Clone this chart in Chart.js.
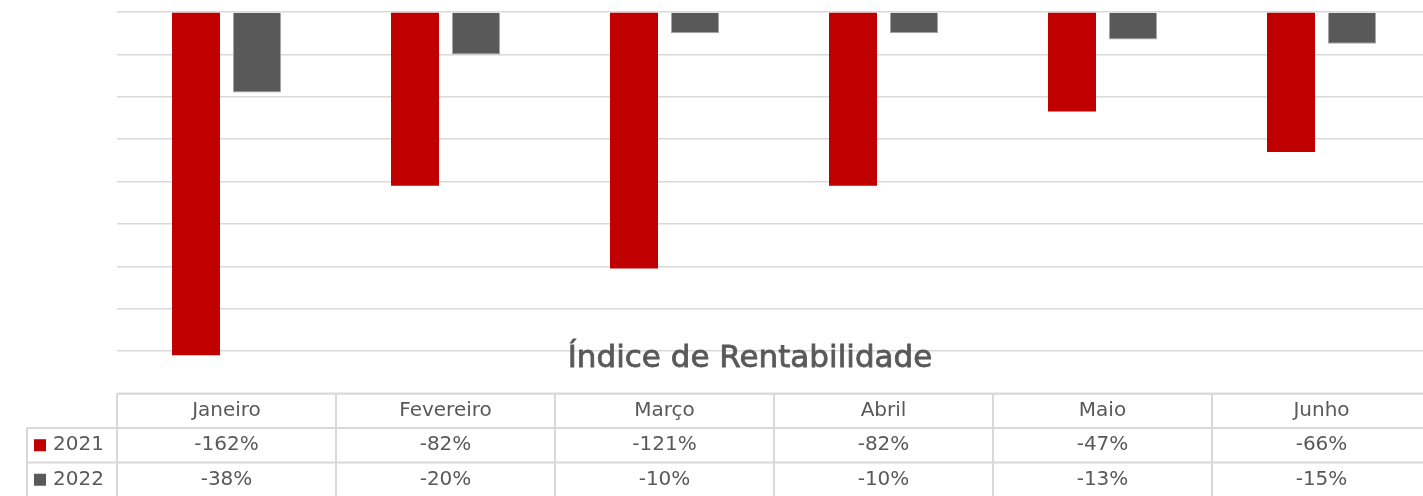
<!DOCTYPE html>
<html>
<head>
<meta charset="utf-8">
<script src="https://cdn.jsdelivr.net/npm/chart.js@4/dist/chart.umd.min.js"></script>
<style>
  html, body { margin: 0; padding: 0; background: #fff; overflow: hidden; }
  #wrap { width: 1440px; height: 496px; }
</style>
</head>
<body>
<div id="wrap"><canvas id="chart" width="1440" height="496"></canvas></div>
<script>
const months = ['Janeiro', 'Fevereiro', 'Março', 'Abril', 'Maio', 'Junho'];
const seriesNames = ['2021', '2022'];
const values2021 = [-162, -82, -121, -82, -47, -66];
const values2022 = [-38, -20, -10, -10, -13, -15];
const chartTitle = 'Índice de Rentabilidade';

const red = '#C00000';
const grey = '#595959';
const lineGrey = '#d9d9d9';
const textGrey = '#595959';
const font = '"DejaVu Sans", sans-serif';

// title sits over the lower grid, like the original
const titlePlugin = {
    id: 'titleOverlay',
    afterDraw(chart) {
        const ctx = chart.ctx;
        ctx.save();
        ctx.font = '31px ' + font;
        ctx.fillStyle = textGrey;
        ctx.strokeStyle = textGrey;
        ctx.lineWidth = 0.8;
        ctx.textAlign = 'center';
        ctx.textBaseline = 'alphabetic';
        ctx.fillText(chartTitle, 750, 367);
        ctx.strokeText(chartTitle, 750, 367);
        ctx.restore();
    }
};

// data table under the plot
const tablePlugin = {
    id: 'dataTable',
    afterDraw(chart) {
        const ctx = chart.ctx;
        const x = chart.scales.x;
        const left = x.left;
        const right = x.right;
        const colW = (right - left) / months.length;
        const top = chart.chartArea.bottom;
        const rowH = 34.5;
        const legendLeft = 27;
        const bottom = chart.height + 2;

        ctx.save();
        ctx.strokeStyle = lineGrey;
        ctx.lineWidth = 2;
        ctx.beginPath();
        ctx.moveTo(left, top); ctx.lineTo(right, top);
        ctx.moveTo(legendLeft, top + rowH); ctx.lineTo(right, top + rowH);
        ctx.moveTo(legendLeft, top + 2 * rowH); ctx.lineTo(right, top + 2 * rowH);
        ctx.moveTo(legendLeft, top + rowH); ctx.lineTo(legendLeft, bottom);
        for (let i = 0; i <= months.length; i++) {
            const cx = left + i * colW;
            ctx.moveTo(cx, top); ctx.lineTo(cx, bottom);
        }
        ctx.stroke();

        ctx.font = '20px ' + font;
        ctx.fillStyle = textGrey;
        ctx.textAlign = 'center';
        ctx.textBaseline = 'middle';
        const rows = [values2021, values2022];
        months.forEach((m, i) => {
            const cx = x.getPixelForValue(i);
            ctx.fillText(m, cx, top + rowH / 2);
            rows.forEach((r, j) => {
                ctx.fillText(r[i] + '%', cx, top + rowH * (j + 1.5));
            });
        });

        // legend keys
        const colors = [red, grey];
        seriesNames.forEach((name, j) => {
            const cy = top + rowH * (j + 1.5);
            ctx.fillStyle = colors[j];
            ctx.fillRect(34, cy - 6, 12, 12);
            ctx.fillStyle = textGrey;
            ctx.textAlign = 'left';
            ctx.fillText(name, 53, cy);
        });
        ctx.restore();
    }
};

const chart = new Chart(document.getElementById('chart').getContext('2d'), {
    type: 'bar',
    data: {
        labels: months,
        datasets: [
            {
                label: seriesNames[0],
                data: values2021,
                backgroundColor: red,
                borderWidth: 0,
                categoryPercentage: 0.557,
                barPercentage: 0.787
            },
            {
                label: seriesNames[1],
                data: values2022,
                backgroundColor: grey,
                borderColor: '#a6a6a6',
                borderWidth: 1,
                categoryPercentage: 0.557,
                barPercentage: 0.787
            }
        ]
    },
    options: {
        responsive: false,
        animation: false,
        layout: { padding: { left: 117, right: 9, top: 12, bottom: 102.5 } },
        plugins: {
            legend: { display: false },
            title: { display: false },
            tooltip: { enabled: false }
        },
        scales: {
            x: { display: false },
            y: {
                min: -180,
                max: 0,
                ticks: { display: false, stepSize: 20 },
                grid: { color: lineGrey, lineWidth: 1.5, drawTicks: false },
                border: { display: false }
            }
        }
    },
    plugins: [titlePlugin, tablePlugin]
});
</script>
</body>
</html>
